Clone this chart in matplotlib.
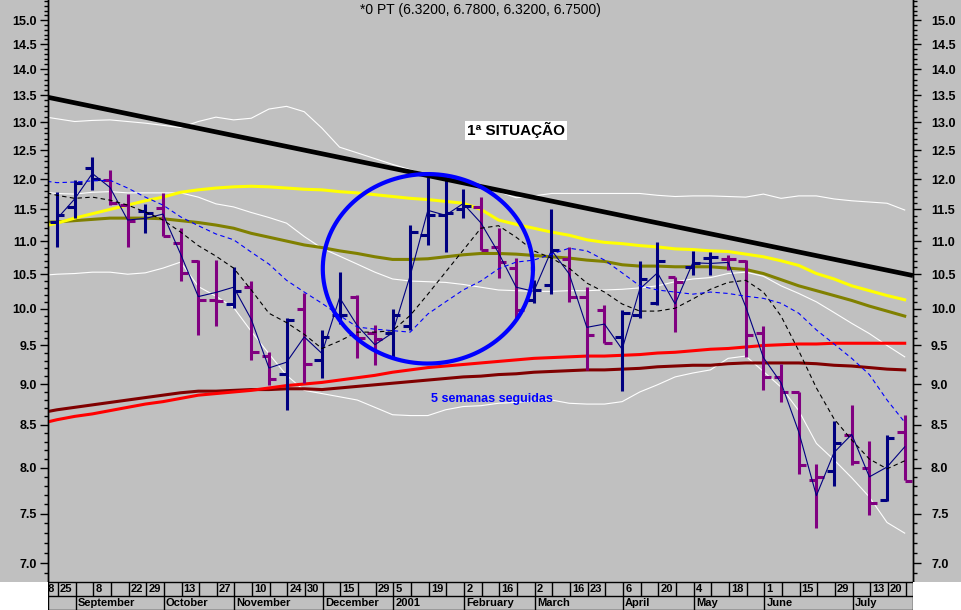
import numpy as np
import matplotlib
matplotlib.use('Agg')
import matplotlib.pyplot as plt
from matplotlib.patches import Rectangle
from matplotlib.ticker import FixedLocator, FormatStrFormatter, NullFormatter

plt.rcParams['font.family'] = ['Liberation Sans', 'DejaVu Sans']

# weekly bars, week 0 = 25 Aug 2000
opens = [11.30, 11.54, 12.19, 11.98, 11.57, 11.47, 11.52, 10.97, 10.70, 10.13,
         10.07, 10.32, 9.36, 9.13, 10.00, 9.31, 9.91, 10.17, 9.67, 9.67,
         9.76, 11.09, 11.41, 11.51, 11.54, 10.91, 10.59, 10.13, 10.34, 10.72,
         10.17, 9.99, 9.62, 9.91, 10.08, 10.46, 10.61, 10.74, 10.72, 10.70,
         9.67, 9.09, 8.90, 7.87, 7.97, 8.38, 8.00, 7.65, 8.41]
highs = [11.79, 11.98, 12.37, 12.15, 11.75, 11.59, 11.77, 11.20, 10.71, 10.71,
         10.60, 10.40, 9.42, 9.88, 10.22, 9.71, 10.53, 10.20, 9.78, 10.00,
         11.25, 12.03, 11.98, 11.83, 11.71, 11.20, 10.74, 10.41, 11.51, 10.91,
         10.31, 10.05, 9.99, 10.69, 10.99, 10.46, 10.85, 10.83, 10.79, 10.71,
         9.76, 9.26, 8.90, 8.04, 8.55, 8.74, 8.31, 8.38, 8.62]
lows = [10.91, 11.36, 11.82, 11.57, 10.91, 11.12, 11.08, 10.40, 9.64, 9.76,
        10.02, 9.31, 8.99, 8.68, 9.01, 9.08, 9.79, 9.34, 9.24, 9.34,
        9.71, 10.94, 10.83, 11.36, 10.86, 10.44, 9.88, 10.09, 10.21, 10.10,
        9.18, 9.53, 8.91, 9.88, 10.05, 9.68, 10.49, 10.49, 10.56, 9.35,
        8.92, 8.77, 7.93, 7.35, 7.80, 8.03, 7.49, 7.64, 7.86]
closes = [11.41, 11.93, 12.00, 11.60, 11.32, 11.44, 11.08, 10.52, 10.13, 10.11,
          10.26, 9.42, 9.06, 9.84, 9.25, 9.61, 9.91, 9.60, 9.59, 9.91,
          11.14, 11.41, 11.44, 11.55, 10.86, 10.68, 9.99, 10.27, 10.86, 10.17,
          9.64, 9.53, 9.94, 10.43, 10.70, 10.38, 10.67, 10.75, 10.72, 9.64,
          9.09, 8.90, 8.03, 7.90, 8.29, 8.07, 7.62, 8.34, 7.85]

# averages and bands, one value per week starting at week -1
ma_weeks = np.arange(-1, 49)
ma_yellow = [11.22, 11.28, 11.36, 11.43, 11.50, 11.57, 11.64, 11.70, 11.78, 11.82,
             11.85, 11.87, 11.88, 11.87, 11.85, 11.83, 11.82, 11.79, 11.77, 11.74,
             11.71, 11.68, 11.66, 11.63, 11.60, 11.50, 11.33, 11.26, 11.20, 11.14,
             11.09, 11.02, 10.98, 10.96, 10.93, 10.91, 10.88, 10.87, 10.85, 10.84,
             10.80, 10.76, 10.70, 10.63, 10.51, 10.43, 10.33, 10.26, 10.19, 10.13]
ma_olive = [11.29, 11.30, 11.32, 11.34, 11.36, 11.36, 11.36, 11.35, 11.32, 11.29,
            11.25, 11.20, 11.12, 11.06, 11.00, 10.94, 10.90, 10.85, 10.81, 10.76,
            10.72, 10.72, 10.73, 10.76, 10.79, 10.81, 10.81, 10.80, 10.78, 10.76,
            10.74, 10.71, 10.69, 10.64, 10.62, 10.62, 10.61, 10.61, 10.61, 10.59,
            10.57, 10.51, 10.42, 10.33, 10.26, 10.19, 10.12, 10.04, 9.97, 9.90]
ma_red = [8.51, 8.56, 8.60, 8.63, 8.67, 8.71, 8.75, 8.78, 8.82, 8.86,
          8.88, 8.90, 8.92, 8.95, 8.98, 9.00, 9.02, 9.05, 9.08, 9.11,
          9.15, 9.18, 9.21, 9.23, 9.25, 9.27, 9.29, 9.31, 9.33, 9.34,
          9.35, 9.36, 9.36, 9.37, 9.38, 9.40, 9.41, 9.43, 9.45, 9.46,
          9.48, 9.50, 9.51, 9.52, 9.52, 9.53, 9.53, 9.53, 9.53, 9.53]
ma_darkred = [8.64, 8.68, 8.71, 8.74, 8.77, 8.80, 8.83, 8.86, 8.89, 8.91,
              8.91, 8.92, 8.93, 8.93, 8.94, 8.94, 8.93, 8.95, 8.97, 8.99,
              9.01, 9.03, 9.05, 9.07, 9.09, 9.10, 9.12, 9.13, 9.15, 9.16,
              9.17, 9.18, 9.18, 9.19, 9.20, 9.22, 9.23, 9.24, 9.24, 9.26,
              9.27, 9.27, 9.27, 9.27, 9.26, 9.24, 9.23, 9.21, 9.19, 9.18]
band_top = [13.11, 13.06, 13.01, 13.03, 13.04, 13.01, 12.98, 12.94, 12.90, 13.01,
            13.09, 13.04, 13.07, 13.24, 13.29, 13.19, 12.89, 12.55, 12.45, 12.35,
            12.25, 12.16, 12.06, 11.99, 11.96, 11.87, 11.79, 11.69, 11.72, 11.76,
            11.76, 11.76, 11.76, 11.76, 11.76, 11.73, 11.71, 11.72, 11.72, 11.71,
            11.70, 11.75, 11.68, 11.72, 11.72, 11.67, 11.64, 11.62, 11.60, 11.49]
band_mid = [11.79, 11.76, 11.75, 11.78, 11.79, 11.77, 11.77, 11.77, 11.77, 11.70,
            11.59, 11.54, 11.45, 11.37, 11.28, 11.07, 10.89, 10.77, 10.65, 10.53,
            10.43, 10.40, 10.39, 10.38, 10.35, 10.31, 10.27, 10.26, 10.25, 10.25,
            10.26, 10.26, 10.27, 10.28, 10.30, 10.33, 10.39, 10.43, 10.45, 10.51,
            10.53, 10.47, 10.33, 10.22, 10.10, 9.95, 9.80, 9.66, 9.50, 9.35]
band_low = [10.48, 10.50, 10.51, 10.53, 10.53, 10.50, 10.52, 10.59, 10.68, 10.32,
            10.18, 10.02, 9.69, 9.39, 9.11, 8.92, 8.88, 8.84, 8.80, 8.71,
            8.62, 8.61, 8.61, 8.68, 8.72, 8.73, 8.76, 8.77, 8.79, 8.80,
            8.76, 8.75, 8.75, 8.78, 8.90, 8.99, 9.09, 9.14, 9.18, 9.33,
            9.36, 9.16, 8.96, 8.67, 8.28, 8.09, 7.89, 7.68, 7.41, 7.30]
ma_short = [11.80, 11.73, 11.68, 11.70, 11.65, 11.57, 11.46, 11.33, 11.14, 10.93,
            10.77, 10.59, 10.27, 9.94, 9.81, 9.65, 9.46, 9.56, 9.68, 9.68,
            9.70, 9.91, 10.21, 10.53, 10.86, 11.20, 11.24, 11.06, 10.85, 10.74,
            10.59, 10.37, 10.24, 10.07, 9.97, 9.97, 10.01, 10.14, 10.28, 10.38,
            10.41, 10.24, 9.90, 9.43, 8.95, 8.57, 8.32, 8.10, 7.99, 8.08]
ma_long = [11.98, 11.94, 11.95, 11.97, 11.98, 11.85, 11.70, 11.57, 11.38, 11.24,
           11.11, 11.02, 10.83, 10.65, 10.41, 10.24, 10.08, 9.91, 9.75, 9.72,
           9.70, 9.68, 9.93, 10.10, 10.27, 10.40, 10.58, 10.68, 10.71, 10.80,
           10.89, 10.85, 10.71, 10.52, 10.33, 10.27, 10.24, 10.21, 10.24, 10.22,
           10.18, 10.15, 10.08, 9.94, 9.71, 9.52, 9.33, 9.12, 8.80, 8.53]

# trend line and circled zone
trend_x = [-0.51, 48.47]
trend_y = [13.46, 10.48]
ell_x, ell_y = 21.0, 10.58
ell_w, ell_h = 5.95, 0.133   # half width in weeks, half height in log units

# date strip
label_weeks = [-1, 0, 2, 4, 5, 7, 9, 11, 13, 14, 16, 18, 19, 21, 23, 25, 27, 29,
               30, 32, 34, 36, 38, 40, 42, 44, 46, 47]
label_days = ['18', '25', '8', '22', '29', '13', '27', '10', '24', '30', '15', '29',
              '5', '19', '2', '16', '2', '16', '23', '6', '20', '4', '18', '1',
              '15', '29', '13', '20']
month_weeks = [1, 6, 10, 15, 19, 23, 27, 32, 36, 40, 45]
month_names = ['September', 'October', 'November', 'December', '2001', 'February',
               'March', 'April', 'May', 'June', 'July']

GRAY = '#c0c0c0'
W, H = 961.0, 610.0
fig = plt.figure(figsize=(9.61, 6.10), dpi=100, facecolor=GRAY)
ax = fig.add_axes([48 / W, 28 / H, 865 / W, 582 / H])
ax.set_facecolor(GRAY)
xlim = (-0.51, 48.47)
ylim = (6.816, 15.43)

# bands and averages
for s in (band_top, band_mid, band_low):
    ax.plot(ma_weeks, s, color='white', lw=0.8, zorder=2)
ax.plot(ma_weeks, ma_darkred, color='#800000', lw=2.2, zorder=3)
ax.plot(ma_weeks, ma_red, color='#ff0000', lw=2.2, zorder=3)
ax.plot(ma_weeks, ma_olive, color='#808000', lw=2.2, zorder=3)
ax.plot(ma_weeks, ma_yellow, color='#ffff00', lw=2.2, zorder=3)

# weekly bars
x = np.arange(len(closes))
c = np.array(closes)
prev = np.r_[c[0], c[:-1]]
cols = np.where(c >= prev, '#000080', '#800080')
ax.vlines(x, lows, highs, colors=cols, lw=2.2, zorder=4)
ax.hlines(opens, x - 0.42, x, colors=cols, lw=2.2, zorder=4)
ax.hlines(closes, x, x + 0.42, colors=cols, lw=2.2, zorder=4)

mid = (np.array(highs) + np.array(lows)) / 2
ax.plot(x, mid, color='#000080', lw=0.8, zorder=5)
ax.plot(ma_weeks, ma_short, color='black', lw=0.8, dashes=(4, 3), zorder=5)
ax.plot(ma_weeks, ma_long, color='#0000ff', lw=0.8, dashes=(4, 3), zorder=5)

ax.plot(trend_x, trend_y, color='black', lw=3.4, zorder=6, solid_capstyle='butt')

t = np.linspace(0, 2 * np.pi, 300)
ax.plot(ell_x + ell_w * np.cos(t), ell_y * np.exp(ell_h * np.sin(t)),
        color='#0000ff', lw=3, zorder=7)

ax.text(26.0, 12.85, '1ª SITUAÇÃO', ha='center', va='center', fontsize=11,
        fontweight='bold', color='black', zorder=8,
        bbox=dict(facecolor='white', edgecolor='none', pad=1.2))
ax.text(24.6, 8.81, '5 semanas seguidas', ha='center', va='center', fontsize=9,
        fontweight='bold', color='#0000ff', zorder=8)

fig.text(0.5, 1 - 10 / H, '*0 PT (6.3200, 6.7800, 6.3200, 6.7500)',
         ha='center', va='center', fontsize=10, color='black')

# price axes, left and right
axr = ax.twinx()
for a in (ax, axr):
    a.set_yscale('log')
    a.set_xlim(xlim)
    a.set_ylim(ylim)
    a.set_xticks([])
    a.yaxis.set_major_locator(FixedLocator(np.arange(7.0, 15.01, 0.5)))
    a.yaxis.set_major_formatter(FormatStrFormatter('%.1f'))
    a.yaxis.set_minor_locator(FixedLocator(np.arange(6.9, 15.45, 0.1)))
    a.yaxis.set_minor_formatter(NullFormatter())
    for sp in ('top', 'bottom'):
        a.spines[sp].set_visible(False)
    for sp in ('left', 'right'):
        a.spines[sp].set_color('black')
        a.spines[sp].set_linewidth(1)
ax.tick_params(axis='y', which='major', left=True, right=False, length=6, width=1,
               pad=2, labelsize=9)
ax.tick_params(axis='y', which='minor', left=True, right=False, length=3, width=1)
axr.tick_params(axis='y', which='major', right=True, length=6, width=1, pad=7,
                labelsize=9)
axr.tick_params(axis='y', which='minor', right=True, length=3, width=1)
for a in (ax, axr):
    for lab in a.get_yticklabels():
        lab.set_fontweight('bold')

# date strip
axd = fig.add_axes([48 / W, 0, 865 / W, 28 / H])
axd.set_facecolor(GRAY)
axd.set_xlim(xlim)
axd.set_ylim(0, 2)
axd.set_xticks([])
axd.set_yticks([])
for sp in axd.spines.values():
    sp.set_color('black')
    sp.set_linewidth(1)
axd.vlines(np.arange(0, 49) + 0.05, 1, 2, colors='black', lw=1)
axd.vlines(np.array(month_weeks) + 0.05, 0, 1, colors='black', lw=1)
axd.axhline(1, color='black', lw=1)
for w, d in zip(label_weeks, label_days):
    axd.text(w + 0.17, 1.5, d, ha='left', va='center', fontsize=8,
             fontweight='bold', clip_on=True)
for w, m in zip(month_weeks, month_names):
    axd.text(w + 0.17, 0.48, m, ha='left', va='center', fontsize=8,
             fontweight='bold', clip_on=True)

fig.add_artist(Rectangle((0, 0), 48 / W, 28 / H, transform=fig.transFigure,
                         facecolor='white', edgecolor='none'))
fig.add_artist(Rectangle((913 / W, 0), 48 / W, 28 / H, transform=fig.transFigure,
                         facecolor='white', edgecolor='none'))

fig.savefig('out.png', dpi=100, facecolor=GRAY)
